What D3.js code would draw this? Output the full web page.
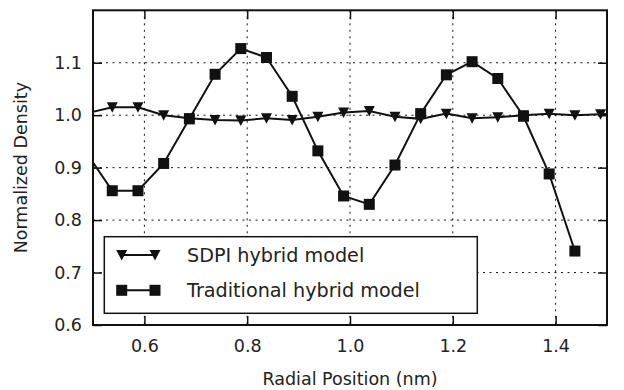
<!DOCTYPE html>
<html>
<head>
<meta charset="utf-8">
<script src="https://cdn.jsdelivr.net/npm/d3@7"></script>
<style>
  body { margin: 0; background: #fff; }
  text { font-family: 'DejaVu Sans', sans-serif; fill: #222; }
</style>
</head>
<body>
<svg id="chart" width="624" height="390"></svg>
<script>
// radial bin centres (nm)
const radiusSdpi = [0.4875, 0.5375, 0.5875, 0.6375, 0.6875, 0.7375, 0.7875, 0.8375, 0.8875, 0.9375, 0.9875,
  1.0375, 1.0875, 1.1375, 1.1875, 1.2375, 1.2875, 1.3375, 1.3875, 1.4375, 1.4875, 1.5375]
const densitySdpi = [1.004, 1.015, 1.015, 1.000, 0.994, 0.991, 0.990, 0.994, 0.991, 0.997, 1.005,
  1.008, 0.997, 0.993, 1.003, 0.994, 0.996, 1.000, 1.003, 1.000, 1.002, 1.003]

const radiusTrad = [0.4875, 0.5375, 0.5875, 0.6375, 0.6875, 0.7375, 0.7875, 0.8375, 0.8875, 0.9375, 0.9875,
  1.0375, 1.0875, 1.1375, 1.1875, 1.2375, 1.2875, 1.3375, 1.3875, 1.4375]
const densityTrad = [0.928, 0.856, 0.856, 0.908, 0.993, 1.078, 1.127, 1.110, 1.036, 0.932, 0.846,
  0.830, 0.905, 1.003, 1.077, 1.102, 1.070, 0.998, 0.888, 0.741]

const xTicks = [0.6, 0.8, 1.0, 1.2, 1.4]
const yTicks = [0.6, 0.7, 0.8, 0.9, 1.0, 1.1]
const seriesNames = ['SDPI hybrid model', 'Traditional hybrid model']

const plotLeft = 93
const plotRight = 607
const plotTop = 10.3
const plotBottom = 325
const ink = '#111'

let svg = d3.select('#chart')

let x = d3.scaleLinear().domain([0.5, 1.5]).range([plotLeft, plotRight])
let y = d3.scaleLinear().domain([0.6, 1.2]).range([plotBottom, plotTop])

svg.append('defs').append('clipPath')
  .attr('id', 'plot-clip')
  .append('rect')
  .attr('x', plotLeft).attr('y', plotTop)
  .attr('width', plotRight - plotLeft).attr('height', plotBottom - plotTop)

// dotted grid
let grid = svg.append('g').attr('class', 'grid')
grid.selectAll('.gx')
  .data(xTicks)
  .enter().append('line')
  .attr('x1', d => x(d)).attr('x2', d => x(d))
  .attr('y1', plotTop).attr('y2', plotBottom)
grid.selectAll('.gy')
  .data(yTicks.filter(d => d > 0.6))
  .enter().append('line')
  .attr('x1', plotLeft).attr('x2', plotRight)
  .attr('y1', d => y(d)).attr('y2', d => y(d))
grid.selectAll('line')
  .style('stroke', ink)
  .style('stroke-width', 1)
  .style('stroke-dasharray', '2,4.5')

// axes with inward ticks on all sides
let tickLen = 9
svg.append('g')
  .attr('transform', `translate(0,${plotBottom})`)
  .call(d3.axisBottom(x).tickValues(xTicks).tickSizeInner(-tickLen).tickSizeOuter(0).tickPadding(14.3).tickFormat(d3.format('.1f')))
svg.append('g')
  .attr('transform', `translate(0,${plotTop})`)
  .call(d3.axisTop(x).tickValues(xTicks).tickSizeInner(-tickLen).tickSizeOuter(0).tickFormat(''))
svg.append('g')
  .attr('transform', `translate(${plotLeft},0)`)
  .call(d3.axisLeft(y).tickValues(yTicks).tickSizeInner(-tickLen).tickSizeOuter(0).tickPadding(11).tickFormat(d3.format('.1f')))
svg.append('g')
  .attr('transform', `translate(${plotRight},0)`)
  .call(d3.axisRight(y).tickValues(yTicks).tickSizeInner(-tickLen).tickSizeOuter(0).tickFormat(''))

svg.selectAll('.domain').remove()
svg.selectAll('.tick line').style('stroke', ink).style('stroke-width', 1.5)
svg.selectAll('.tick text')
  .style('font-size', '17.5px')
  .style('font-family', "'DejaVu Sans', sans-serif")
  .style('fill', '#222')

// series
let plot = svg.append('g').attr('clip-path', 'url(#plot-clip)')
let lineGen = d3.line()

// downward triangle centred on its bounding box
let triPath = 'M-5.5,-5L5.5,-5L0,5.5Z'
let sq = 11

function drawSdpi (g, pts) {
  g.append('path')
    .attr('d', lineGen(pts))
    .style('fill', 'none').style('stroke', ink).style('stroke-width', 2)
  g.selectAll('.tri')
    .data(pts)
    .enter().append('path')
    .attr('d', triPath)
    .attr('transform', d => `translate(${d[0]},${d[1]})`)
    .style('fill', ink)
}

function drawTrad (g, pts) {
  g.append('path')
    .attr('d', lineGen(pts))
    .style('fill', 'none').style('stroke', ink).style('stroke-width', 2)
  g.selectAll('.sq')
    .data(pts)
    .enter().append('rect')
    .attr('x', d => d[0] - sq / 2).attr('y', d => d[1] - sq / 2)
    .attr('width', sq).attr('height', sq)
    .style('fill', ink)
}

drawSdpi(plot.append('g'), radiusSdpi.map((r, i) => [x(r), y(densitySdpi[i])]))
drawTrad(plot.append('g'), radiusTrad.map((r, i) => [x(r), y(densityTrad[i])]))

// frame
svg.append('rect')
  .attr('x', plotLeft).attr('y', plotTop)
  .attr('width', plotRight - plotLeft).attr('height', plotBottom - plotTop)
  .style('fill', 'none').style('stroke', ink).style('stroke-width', 2)

// axis titles
svg.append('text')
  .attr('x', (plotLeft + plotRight) / 2).attr('y', 385)
  .attr('text-anchor', 'middle')
  .style('font-size', '17.5px')
  .text('Radial Position (nm)')
svg.append('text')
  .attr('transform', `translate(27,${(plotTop + plotBottom) / 2}) rotate(-90)`)
  .attr('text-anchor', 'middle')
  .style('font-size', '17.5px')
  .text('Normalized Density')

// legend
let legend = svg.append('g')
legend.append('rect')
  .attr('x', 104.3).attr('y', 236.7)
  .attr('width', 373).attr('height', 76.6)
  .style('fill', '#fff').style('stroke', ink).style('stroke-width', 1.5)

let rowY = [255, 290.3]
drawSdpi(legend.append('g'), [[121.7, rowY[0]], [155, rowY[0]]])
drawTrad(legend.append('g'), [[121.7, rowY[1]], [155, rowY[1]]])
legend.selectAll('.label')
  .data(seriesNames)
  .enter().append('text')
  .attr('x', 187)
  .attr('y', (d, i) => rowY[i] + 7)
  .style('font-size', '19.2px')
  .text(d => d)
</script>
</body>
</html>
